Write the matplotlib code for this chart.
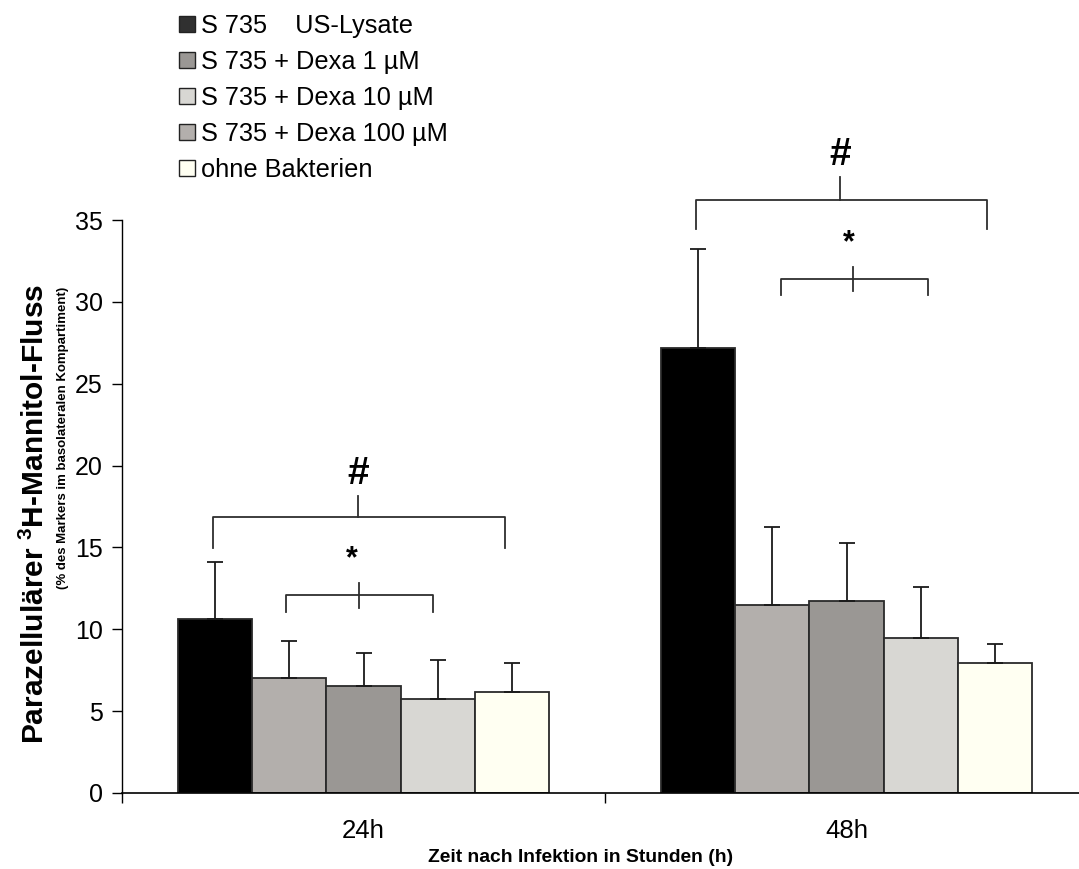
import matplotlib
matplotlib.use("Agg")
import matplotlib.pyplot as plt
from matplotlib.patches import Patch
import numpy as np

plt.rcParams['font.family'] = ['Liberation Sans', 'DejaVu Sans']
plt.rcParams['mathtext.fontset'] = 'custom'
plt.rcParams['mathtext.rm'] = 'Liberation Sans'
plt.rcParams['mathtext.bf'] = 'Liberation Sans:bold'

# Time points and treatment groups
time_points = ["24h", "48h"]
series_labels = [
    "S 735    US-Lysate",
    "S 735 + Dexa 1 µM",
    "S 735 + Dexa 10 µM",
    "S 735 + Dexa 100 µM",
    "ohne Bakterien",
]

# Mean paracellular flux (% of marker in basolateral compartment)
flux_24h = [10.65, 7.0, 6.55, 5.75, 6.15]
flux_48h = [27.2, 11.5, 11.7, 9.45, 7.95]
# Standard deviations (drawn upward only)
sd_24h = [3.45, 2.3, 2.0, 2.38, 1.8]
sd_48h = [6.0, 4.75, 3.6, 3.15, 1.15]

bar_colors = ["#000000", "#b3afac", "#9a9794", "#d8d7d3", "#fffff2"]
legend_colors = ["#303030", "#9a9794", "#d8d7d3", "#b3afac", "#fffff2"]

fig = plt.figure(figsize=(10.79, 8.69), dpi=100)
W, H = 1079, 869
ax = fig.add_axes([122 / W, 76 / H, 966 / W, 573 / H])

means = np.array([flux_24h, flux_48h])
sds = np.array([sd_24h, sd_48h])
x = np.arange(len(time_points))
n = len(series_labels)
width = 0.154

for i in range(n):
    pos = x + (i - (n - 1) / 2) * width
    ax.bar(pos, means[:, i], width=width, color=bar_colors[i],
           edgecolor="#2a2a2a", linewidth=1.3, zorder=2)
    ax.errorbar(pos, means[:, i], yerr=[np.zeros(len(x)), sds[:, i]],
                fmt="none", ecolor="#1a1a1a", elinewidth=1.3,
                capsize=5.5, capthick=1.3, zorder=3)

ax.set_xlim(-0.5, 1.5)
ax.set_ylim(0, 35)
ax.set_yticks(np.arange(0, 36, 5))
ax.tick_params(axis="y", labelsize=18, length=7, width=1, pad=7, direction="out")

# Category boundaries as major ticks, labels at group centres
ax.set_xticks([-0.5, 0.5, 1.5])
ax.set_xticklabels([])
ax.set_xticks(x, minor=True)
ax.set_xticklabels(time_points, minor=True)
ax.tick_params(axis="x", which="major", length=7, width=1, direction="out")
ax.tick_params(axis="x", which="minor", length=0, labelsize=18.5, pad=19)

for s in ["top", "right"]:
    ax.spines[s].set_visible(False)
ax.spines["left"].set_linewidth(1)
ax.spines["bottom"].set_linewidth(1.2)


def bracket(cx, xl, xr, y, drop, tick_x, tick_lo, tick_hi, sym, sym_x, sym_y, size):
    kw = dict(color="#2e2e2e", lw=1.3, clip_on=False, zorder=4)
    ax.plot([cx + xl, cx + xl, cx + xr, cx + xr], [y - drop, y, y, y - drop], **kw)
    ax.plot([cx + tick_x, cx + tick_x], [tick_lo, tick_hi], **kw)
    ax.text(cx + sym_x, sym_y, sym, ha="center", va="center", fontsize=size,
            fontweight="bold", clip_on=False)


# Significance markers, 24h
bracket(x[0], -0.311, 0.292, 16.86, 1.89, -0.012, 16.86, 18.16, "#", -0.012, 19.5, 28)
bracket(x[0], -0.161, 0.143, 12.10, 1.02, -0.010, 11.32, 12.81, "*", -0.025, 14.3, 22)
# Significance markers, 48h
bracket(x[1], -0.312, 0.2915, 36.24, 1.81, -0.013, 36.24, 37.61, "#", -0.013, 39.0, 28)
bracket(x[1], -0.136, 0.168, 31.37, 0.97, 0.014, 30.67, 32.10, "*", 0.005, 33.55, 22)

# Axis titles
fig.text(35 / W, 1 - 514 / H, r"Parazellulärer $\mathbf{^{3}}$H-Mannitol-Fluss",
         rotation=90, ha="center", va="center", fontsize=21.5, fontweight="bold")
fig.text(63 / W, 1 - 438 / H, "(% des Markers im basolateralen Kompartiment)",
         rotation=90, ha="center", va="center", fontsize=9.5, fontweight="bold")
fig.text(581 / W, 1 - 858 / H, "Zeit nach Infektion in Stunden (h)",
         ha="center", va="center", fontsize=13.9, fontweight="bold")

handles = [Patch(facecolor=c, edgecolor="#222222", linewidth=1.0) for c in legend_colors]
fig.legend(handles, series_labels, loc="upper left",
           bbox_to_anchor=(179 / W, 1 - 14 / H), frameon=False, fontsize=18.3,
           handlelength=0.62, handleheight=0.62, handletextpad=0.25,
           labelspacing=0.47, borderpad=0, borderaxespad=0)

fig.savefig("out.png", dpi=100)
